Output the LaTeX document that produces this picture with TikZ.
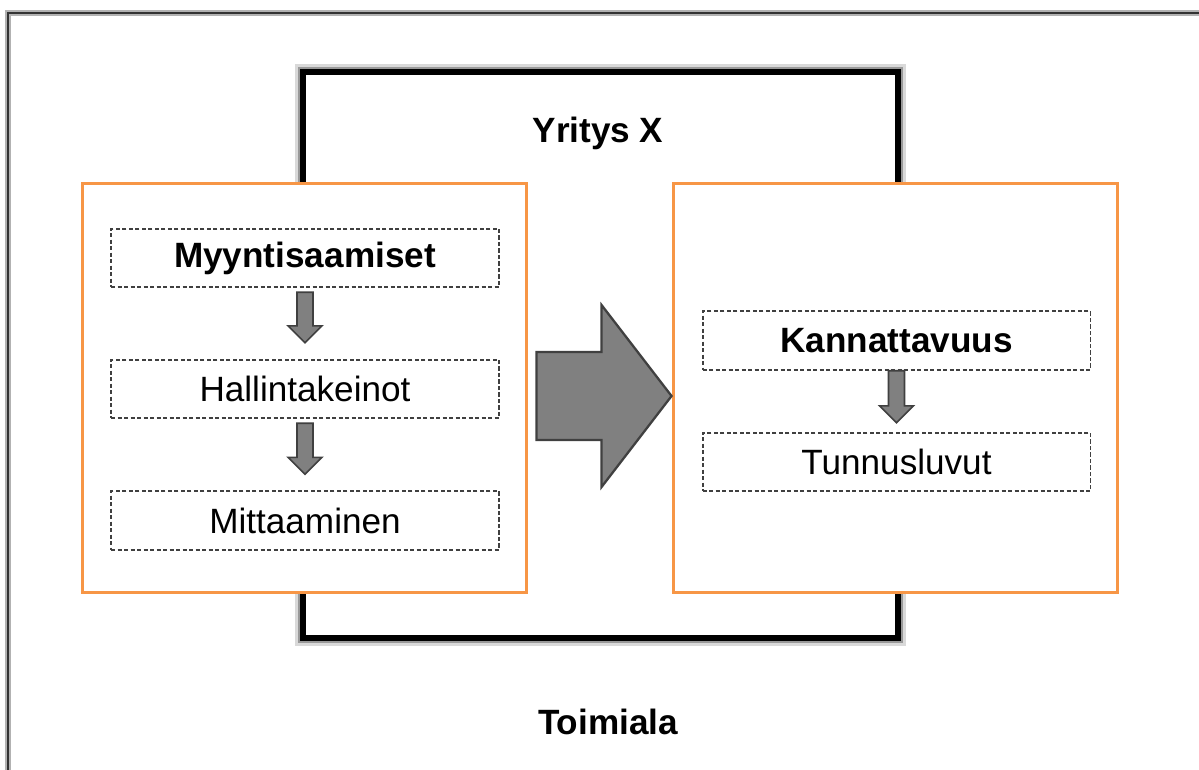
\documentclass[tikz,border=0pt]{standalone}
\usepackage{fontspec}
\setmainfont{Liberation Sans}
\usetikzlibrary{calc}

\definecolor{boxorange}{RGB}{247,150,70}
\definecolor{arrowgray}{RGB}{128,128,128}
\definecolor{edgegray}{RGB}{64,64,64}

% block arrow pointing down, from top point #1 to tip #2
\newcommand{\blockdown}[2]{%
	\draw[blockarrow] ($#1+(-8,0)$) -- ($#1+(8,0)$) -- ($#2+(8,-17)$) -- ($#2+(17,-17)$) -- #2 -- ($#2+(-17,-17)$) -- ($#2+(-8,-17)$) -- cycle;}

\begin{document}
\begin{tikzpicture}[x=0.02cm, y=-0.02cm,
	txt/.style={font=\fontsize{20}{24}\selectfont},
	stepbox/.style={draw=edgegray, line width=1.1pt, dash pattern=on 2.4pt off 1.3pt, rectangle, minimum width=7.76cm, minimum height=1.17cm, inner sep=0pt, txt},
	groupbox/.style={draw=boxorange, line width=1.7pt, fill=white, rectangle, minimum width=8.9cm, minimum height=8.2cm, inner sep=0pt},
	blockarrow/.style={draw=edgegray, line width=0.9pt, fill=arrowgray, line join=miter}]
	
	\clip (0,0) rectangle (1199,769);
	
	%Toimiala frame
	\draw[gray!60, line width=3.5pt] (8,800) -- (8,13) -- (1220,13);
	\draw[black!80, line width=1.4pt] (8,800) -- (8,13) -- (1220,13);
	\node (Toimiala) at (608,722) [txt, font=\fontsize{20}{24}\selectfont\bfseries]{Toimiala};
	
	%Yritys X frame, soft glow outside
	\draw[black!15, line width=2pt] (297,66) rectangle (904,644);
	\draw[black!40, line width=1.5pt] (299,68) rectangle (902,642);
	\draw[black, line width=3.8pt] (303,72) rectangle (898,638);
	\node (YritysX) at (598,133) [txt, font=\fontsize{20}{24}\selectfont\bfseries]{Yritys X};
	
	%Blocks
	\node (Myyntipuoli) at (304.5,388) [groupbox]{};
	\node (Kannattavuuspuoli) at (895.5,388) [groupbox]{};
	
	\node (Myyntisaamiset) at (305,258) [stepbox, font=\fontsize{20}{24}\selectfont\bfseries]{Myyntisaamiset};
	\node (Hallintakeinot) at (305,389) [stepbox]{Hallintakeinot};
	\node (Mittaaminen) at (305,520.5) [stepbox]{Mittaaminen};
	\node (Kannattavuus) at (896.5,340.5) [stepbox, font=\fontsize{20}{24}\selectfont\bfseries]{Kannattavuus};
	\node (Tunnusluvut) at (896.5,462) [stepbox]{Tunnusluvut};
	
	%Links
	\coordinate (topA) at ($(Myyntisaamiset.south)+(0,4)$);
	\coordinate (tipA) at ($(Hallintakeinot.north)+(0,-16)$);
	\coordinate (topB) at ($(Hallintakeinot.south)+(0,4)$);
	\coordinate (tipB) at ($(Mittaaminen.north)+(0,-16)$);
	\coordinate (topC) at (Kannattavuus.south);
	\coordinate (tipC) at ($(Tunnusluvut.north)+(0,-9)$);
	\blockdown{(topA)}{(tipA)}
	\blockdown{(topB)}{(tipB)}
	\blockdown{(topC)}{(tipC)}
	
	%Big arrow
	\coordinate (bigstart) at ($(Myyntipuoli.east)+(8,8)$);
	\coordinate (bigtip) at ($(Kannattavuuspuoli.west)+(0,8)$);
	\draw[blockarrow, line width=1.3pt] ($(bigstart)+(0,-44)$) -- ($(bigtip)+(-70,-44)$) -- ($(bigtip)+(-70,-91)$) -- (bigtip) -- ($(bigtip)+(-70,91)$) -- ($(bigtip)+(-70,44)$) -- ($(bigstart)+(0,44)$) -- cycle;
	
\end{tikzpicture}
\end{document}
